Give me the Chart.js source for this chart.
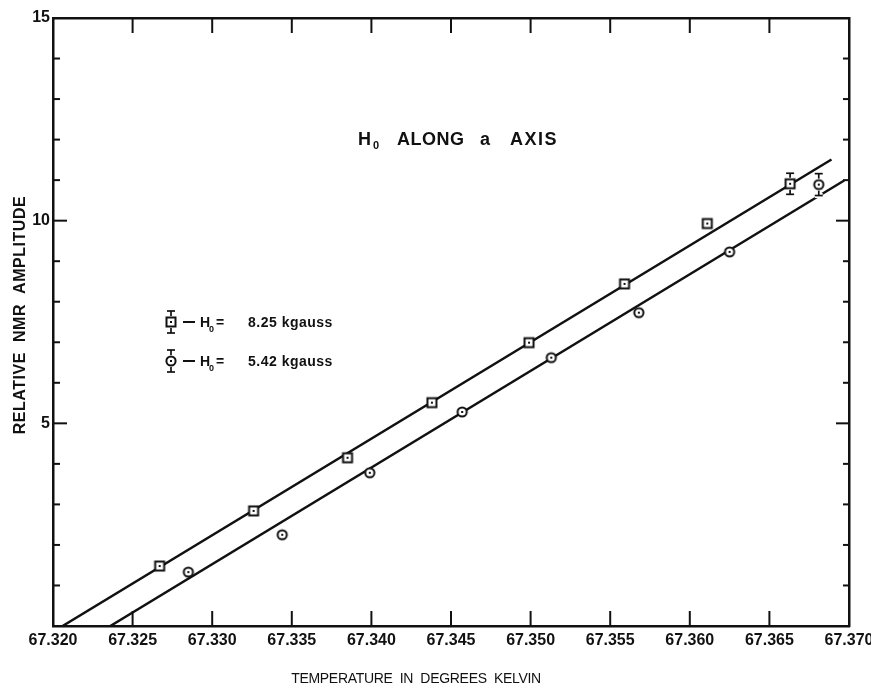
<!DOCTYPE html>
<html>
<head>
<meta charset="utf-8">
<script src="https://cdn.jsdelivr.net/npm/chart.js@4/dist/chart.umd.min.js"></script>
<style>
  html, body { margin: 0; padding: 0; background: #fff; }
  #wrap { width: 871px; height: 685px; position: relative; }
</style>
</head>
<body>
<div id="wrap"><canvas id="c"></canvas></div>
<script>
// ---- data ----
const tempsA = [67.3267, 67.3326, 67.3385, 67.3438, 67.3499, 67.3559, 67.3611, 67.3663];
const ampsA  = [1.48, 2.84, 4.15, 5.51, 6.99, 8.44, 9.93, 10.91];
const errsA  = [null, null, null, null, null, null, null, 0.26];

const tempsB = [67.3285, 67.3344, 67.3399, 67.3457, 67.3513, 67.3568, 67.3625, 67.3681];
const ampsB  = [1.33, 2.25, 3.78, 5.28, 6.62, 7.73, 9.23, 10.89];
const errsB  = [null, null, null, null, null, null, null, 0.27];

const fitTempsA = [67.3206, 67.3689];
const fitAmpsA  = [0, 11.51];
const fitTempsB = [67.3236, 67.3697];
const fitAmpsB  = [0, 10.99];

const xRange = [67.320, 67.370];
const xStep = 0.005;
const yRange = [0, 15];
const yStep = 1;
const yLabelled = [5, 10, 15];

const fieldLabels = ['8.25 kgauss', '5.42 kgauss'];
const plotTitle = ['H', '0', 'ALONG', 'a', 'AXIS'];
const xTitle = 'TEMPERATURE  IN  DEGREES  KELVIN';
const yTitle = 'RELATIVE  NMR  AMPLITUDE';

// ---- styling ----
const INK = '#111';
const FONT = '"Liberation Sans", Arial, sans-serif';

function makeMarker(kind) {
  const c = document.createElement('canvas');
  c.width = 14; c.height = 14;
  const g = c.getContext('2d');
  g.fillStyle = '#fff';
  g.strokeStyle = INK;
  g.lineWidth = 2;
  if (kind === 'square') {
    g.fillRect(2, 2, 10, 10);
    g.strokeRect(2.5, 2.5, 9, 9);
  } else {
    g.beginPath();
    g.arc(7, 7, 4.6, 0, Math.PI * 2);
    g.fill();
    g.stroke();
  }
  g.fillStyle = INK;
  g.fillRect(6, 6, 2, 2);
  return c;
}
const squareMarker = makeMarker('square');
const circleMarker = makeMarker('circle');

const toXY = (xs, ys) => xs.map((x, i) => ({ x, y: ys[i] }));

function drawErrorBar(ctx, x, yTop, yMid, yBot, r) {
  const segs = [[x, yTop, x, yMid - r], [x, yMid + r, x, yBot],
                [x - 4, yTop, x + 4, yTop], [x - 4, yBot, x + 4, yBot]];
  ctx.save();
  ctx.lineCap = 'butt';
  ctx.strokeStyle = '#fff';
  ctx.lineWidth = 5;
  segs.forEach(s => { ctx.beginPath(); ctx.moveTo(s[0], s[1]); ctx.lineTo(s[2], s[3]); ctx.stroke(); });
  ctx.strokeStyle = INK;
  ctx.lineWidth = 1.7;
  segs.forEach(s => { ctx.beginPath(); ctx.moveTo(s[0], s[1]); ctx.lineTo(s[2], s[3]); ctx.stroke(); });
  ctx.restore();
}

function fitText(ctx, text, width) {
  ctx.letterSpacing = '0px';
  const w = ctx.measureText(text).width;
  const ls = (width - w) / Math.max(1, text.length - 1);
  ctx.letterSpacing = ls + 'px';
}

const decorPlugin = {
  id: 'decor',
  beforeDatasetsDraw(chart) {
    const ctx = chart.ctx;
    const a = chart.chartArea;
    const xs = chart.scales.x, ys = chart.scales.y;
    ctx.save();
    ctx.strokeStyle = INK;
    ctx.lineWidth = 2;
    ys.ticks.forEach(t => {
      const v = t.value;
      if (v <= yRange[0] || v >= yRange[1]) return;
      const major = Math.abs(v % 5) < 1e-9;
      const y = ys.getPixelForValue(v);
      ctx.beginPath(); ctx.moveTo(a.left, y); ctx.lineTo(a.left + (major ? 14 : 7), y); ctx.stroke();
      ctx.beginPath(); ctx.moveTo(a.right, y); ctx.lineTo(a.right - (major ? 13 : 6), y); ctx.stroke();
    });
    xs.ticks.forEach(t => {
      const v = t.value;
      if (v <= xRange[0] + 1e-9 || v >= xRange[1] - 1e-9) return;
      const x = xs.getPixelForValue(v);
      ctx.beginPath(); ctx.moveTo(x, a.bottom); ctx.lineTo(x, a.bottom - 15); ctx.stroke();
      ctx.beginPath(); ctx.moveTo(x, a.top); ctx.lineTo(x, a.top + 15); ctx.stroke();
    });
    ctx.restore();
  },
  afterDatasetsDraw(chart) {
    const ctx = chart.ctx;
    const xs = chart.scales.x, ys = chart.scales.y;
    [[tempsA, ampsA, errsA], [tempsB, ampsB, errsB]].forEach(([t, v, e]) => {
      t.forEach((tv, i) => {
        if (e[i] == null) return;
        const x = xs.getPixelForValue(tv);
        drawErrorBar(ctx, x, ys.getPixelForValue(v[i] + e[i]), ys.getPixelForValue(v[i]),
                     ys.getPixelForValue(v[i] - e[i]), 6);
      });
    });
  },
  afterDraw(chart) {
    const ctx = chart.ctx;
    ctx.save();
    ctx.fillStyle = INK;
    ctx.textBaseline = 'alphabetic';
    ctx.textAlign = 'left';
    // plot title
    ctx.font = 'bold 18px ' + FONT;
    ctx.fillText(plotTitle[0], 358, 145);
    ctx.font = 'bold 11px ' + FONT;
    ctx.fillText(plotTitle[1], 373, 149);
    ctx.font = 'bold 18px ' + FONT;
    ctx.letterSpacing = '0.5px';
    ctx.fillText(plotTitle[2], 397, 145);
    ctx.fillText(plotTitle[3], 480, 145);
    ctx.letterSpacing = '1.5px';
    ctx.fillText(plotTitle[4], 510, 145);
    ctx.letterSpacing = '0px';

    // legend
    const rows = [[322, squareMarker, fieldLabels[0]], [361, circleMarker, fieldLabels[1]]];
    rows.forEach(([y, mk, label]) => {
      ctx.drawImage(mk, 171 - 7, y - 7);
      drawErrorBar(ctx, 171, y - 11, y, y + 11, 6);
      ctx.strokeStyle = INK;
      ctx.lineWidth = 2;
      ctx.beginPath(); ctx.moveTo(183, y); ctx.lineTo(195, y); ctx.stroke();
      ctx.fillStyle = INK;
      ctx.font = 'bold 14px ' + FONT;
      ctx.fillText('H', 200, y + 5);
      ctx.font = 'bold 9px ' + FONT;
      ctx.fillText('0', 209, y + 10);
      ctx.font = 'bold 14px ' + FONT;
      ctx.fillText('=', 216, y + 5);
      ctx.letterSpacing = '0.5px';
      ctx.fillText(label, 248, y + 5);
      ctx.letterSpacing = '0px';
    });

    // x axis title
    ctx.font = '14px ' + FONT;
    fitText(ctx, xTitle, 250);
    ctx.textAlign = 'center';
    ctx.fillText(xTitle, 416, 683);
    // y axis title
    ctx.save();
    ctx.translate(25, 315);
    ctx.rotate(-Math.PI / 2);
    ctx.font = 'bold 16px ' + FONT;
    fitText(ctx, yTitle, 238);
    ctx.fillText(yTitle, 0, 0);
    ctx.restore();
    ctx.letterSpacing = '0px';
    ctx.restore();
  }
};

const borderOpt = { display: true, color: INK, width: 2.5 };
const noGrid = { display: false, drawTicks: false };

new Chart(document.getElementById('c'), {
  type: 'scatter',
  data: {
    datasets: [
      { label: fieldLabels[0], data: toXY(tempsA, ampsA), pointStyle: squareMarker,
        pointRadius: 6, showLine: false, order: 0 },
      { label: fieldLabels[1], data: toXY(tempsB, ampsB), pointStyle: circleMarker,
        pointRadius: 6, showLine: false, order: 0 },
      { label: 'fit A', data: toXY(fitTempsA, fitAmpsA), showLine: true, pointRadius: 0,
        borderColor: INK, borderWidth: 2.5, order: 1 },
      { label: 'fit B', data: toXY(fitTempsB, fitAmpsB), showLine: true, pointRadius: 0,
        borderColor: INK, borderWidth: 2.5, order: 1 }
    ]
  },
  options: {
    responsive: true,
    maintainAspectRatio: false,
    animation: false,
    layout: { padding: 0 },
    plugins: { legend: { display: false }, tooltip: { enabled: false } },
    scales: {
      x: {
        type: 'linear', position: 'bottom', min: xRange[0], max: xRange[1],
        ticks: { stepSize: xStep, autoSkip: false, maxRotation: 0, padding: 5, color: INK,
                 font: { family: FONT, size: 16, weight: 'bold' }, callback: v => Number(v).toFixed(3) },
        grid: noGrid, border: borderOpt,
        afterFit(s) { s.height = 59; s.paddingLeft = 0; s.paddingRight = 0; }
      },
      x2: {
        type: 'linear', position: 'top', min: xRange[0], max: xRange[1],
        ticks: { display: false, stepSize: xStep }, grid: noGrid, border: borderOpt,
        afterFit(s) { s.height = 18; s.paddingLeft = 0; s.paddingRight = 0; }
      },
      y: {
        type: 'linear', position: 'left', min: yRange[0], max: yRange[1],
        ticks: { stepSize: yStep, autoSkip: false, padding: 3, color: INK,
                 font: { family: FONT, size: 16, weight: 'bold' },
                 callback: v => yLabelled.includes(v) ? String(v) : '' },
        grid: noGrid, border: borderOpt,
        afterFit(s) { s.width = 53; s.paddingTop = 0; s.paddingBottom = 0; }
      },
      y2: {
        type: 'linear', position: 'right', min: yRange[0], max: yRange[1],
        ticks: { display: false, stepSize: yStep }, grid: noGrid, border: borderOpt,
        afterFit(s) { s.width = 22; s.paddingTop = 0; s.paddingBottom = 0; }
      }
    }
  },
  plugins: [decorPlugin]
});
</script>
</body>
</html>
